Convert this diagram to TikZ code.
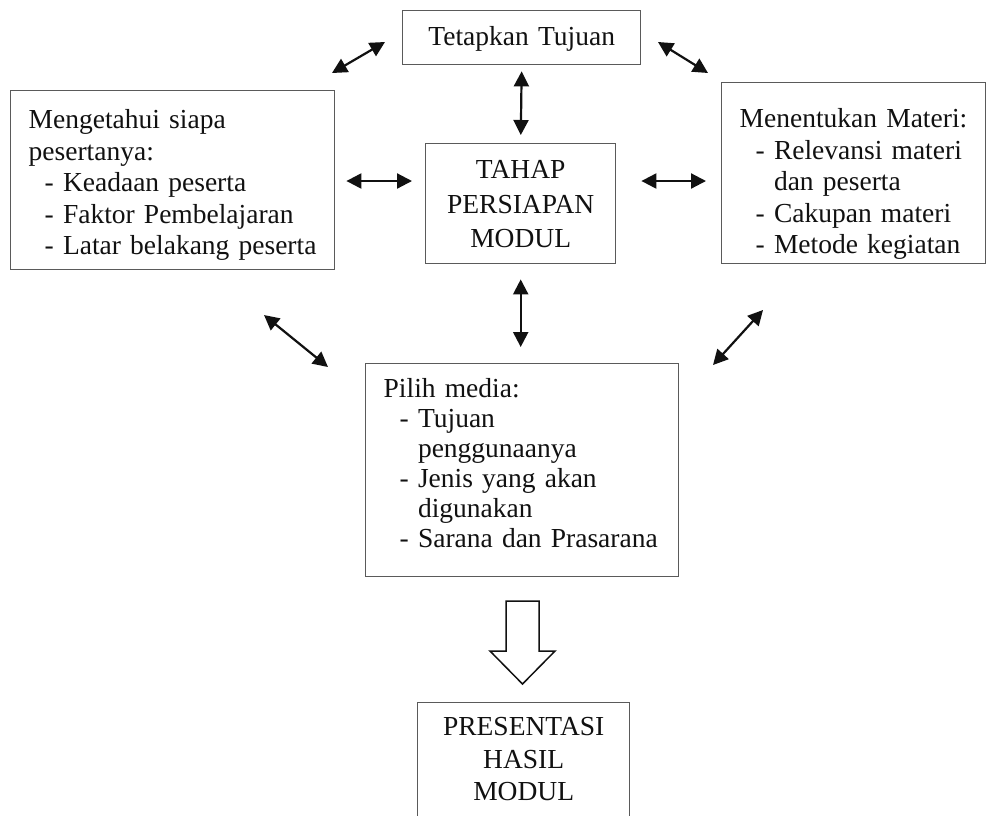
\documentclass[tikz,border=0pt]{standalone}
\usepackage{fontspec}
\setmainfont{Liberation Serif}
\usetikzlibrary{arrows.meta,positioning}
\definecolor{kotakline}{HTML}{5A5A5A}
\definecolor{tinta}{HTML}{111111}

\newcommand{\butir}[1]{\hspace*{16pt}- #1}
\newcommand{\lanjut}[1]{\hspace*{16pt}\phantom{- }#1}

\tikzset{
  kotak/.style={draw=kotakline,line width=1.4pt,rectangle,anchor=north west,
    inner xsep=18pt,inner ysep=0pt,text=tinta,
    font=\fontsize{27.5}{31.5}\selectfont},
  panah/.style={draw=tinta,line width=2.2pt,
    {Triangle[length=15pt,width=15pt]}-{Triangle[length=15pt,width=15pt]}}
}

\begin{document}
\begin{tikzpicture}[x=1pt,y=-1pt]
    \useasboundingbox (0,0) rectangle (987,815);
    \fill[white] (0,0) rectangle (987,815);
    \clip (0,0) rectangle (987,815);

    % kotak-kotak
    \node[kotak,text width=202pt,align=center,text height=35pt,text depth=19pt]
      (tujuan) at (402,10) {Tetapkan Tujuan};
    \node[kotak,text width=288pt,align=left,text height=38pt,text depth=141pt]
      (peserta) at (10,90) {Mengetahui siapa\\ pesertanya:\\
      \butir{Keadaan peserta}\\ \butir{Faktor Pembelajaran}\\
      \butir{Latar belakang peserta}};
    \node[kotak,text width=154pt,align=center,text height=35pt,text depth=85pt,
      font=\fontsize{27.5}{34.5}\selectfont]
      (tahap) at (425,143) {TAHAP\\ PERSIAPAN\\ MODUL};
    \node[kotak,text width=228pt,align=left,text height=45pt,text depth=136pt]
      (materi) at (721,82) {Menentukan Materi:\\ \butir{Relevansi materi}\\
      \lanjut{dan peserta}\\ \butir{Cakupan materi}\\ \butir{Metode kegiatan}};
    \node[kotak,text width=277pt,align=left,text height=34pt,text depth=179pt,
      font=\fontsize{27.5}{30}\selectfont]
      (media) at (365,363) {Pilih media:\\ \butir{Tujuan}\\ \lanjut{penggunaanya}\\
      \butir{Jenis yang akan}\\ \lanjut{digunakan}\\ \butir{Sarana dan Prasarana}};
    \node[kotak,text width=176pt,align=center,text height=33pt,text depth=120pt,
      font=\fontsize{27.5}{32.5}\selectfont]
      (hasil) at (417,702) {PRESENTASI\\ HASIL\\ MODUL};

    % ujung panah
    \coordinate (a1) at (332,73);   \coordinate (a2) at (385,42);
    \coordinate (b1) at (658,42);   \coordinate (b2) at (708,73);
    \coordinate (c1) at (264,315);  \coordinate (c2) at (328,367);
    \coordinate (d1) at (763,310);  \coordinate (d2) at (713,365);

    \draw[panah] (a1) -- (a2);
    \draw[panah] (b1) -- (b2);
    \draw[panah] (c1) -- (c2);
    \draw[panah] (d1) -- (d2);
    \draw[panah,shorten <=6pt,shorten >=8pt] (tujuan.south) -- (tahap.north);
    \draw[panah,shorten <=15pt,shorten >=16pt] (tahap.south) -- (tahap.south |- media.north);
    \draw[panah,shorten <=11pt,shorten >=13pt]
      (peserta.east |- 0,181) -- (tahap.west |- 0,181);
    \draw[panah,shorten <=25pt,shorten >=15pt]
      (tahap.east |- 0,181) -- (materi.west |- 0,181);

    % panah besar ke presentasi
    \draw[tinta,line width=1.5pt,line join=miter,fill=white]
      (506,601) -- (539,601) -- (539,651) -- (555,651) -- (522.5,684)
      -- (490,651) -- (506,651) -- cycle;
  \end{tikzpicture}
\end{document}
